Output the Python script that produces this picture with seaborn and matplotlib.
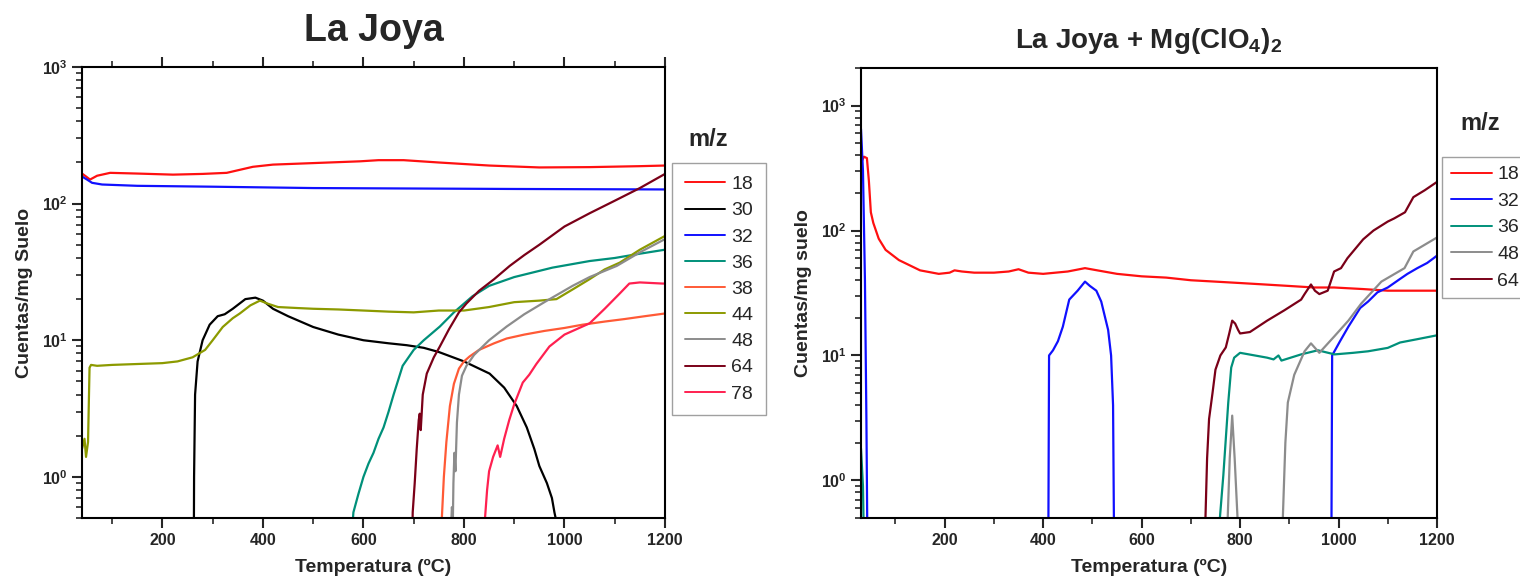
import numpy as np
import pandas as pd
import matplotlib
matplotlib.use("Agg")
import matplotlib.pyplot as plt
from matplotlib.ticker import FixedLocator, LogLocator, FuncFormatter, NullFormatter, MultipleLocator
from matplotlib.lines import Line2D
import seaborn as sns

# ---------------- data: La Joya (left) ----------------
T18_L = [40, 48, 56, 70, 96, 150, 221, 280, 328, 380, 420, 500, 593, 630, 680, 750, 850, 950, 1050, 1150, 1200]
V18_L = [166, 158, 150, 160, 168, 166, 163, 165, 168, 186, 193, 198, 204, 208, 208, 200, 190, 184, 185, 188, 190]
T30_L = [262, 263, 265, 270, 280, 294, 310, 324, 340, 365, 385, 400, 420, 450, 500, 550, 600, 650, 686, 720, 750,
         800, 851, 880, 905, 925, 940, 950, 965, 975, 980, 985]
V30_L = [0.1, 1.0, 4.0, 7.0, 10, 13, 15, 15.5, 17, 20, 20.5, 19.5, 17, 15, 12.5, 11, 10, 9.5, 9.2, 8.8, 8.2,
         7.0, 5.7, 4.5, 3.3, 2.3, 1.6, 1.2, 0.9, 0.7, 0.55, 0.45]
T32_L = [40, 50, 60, 80, 150, 300, 500, 700, 900, 1200]
V32_L = [158, 150, 142, 138, 135, 133, 130, 129, 128, 127]
T36_L = [575, 580, 590, 600, 610, 620, 630, 640, 650, 660, 678, 700, 720, 752, 780, 817, 850, 900, 976, 1050,
         1100, 1150, 1200]
V36_L = [0.3, 0.55, 0.75, 1.0, 1.25, 1.5, 1.9, 2.3, 3.0, 4.0, 6.5, 8.5, 10, 12.6, 16, 21, 25, 29, 34, 38,
         40, 43, 46]
T38_L = [752, 756, 760, 765, 772, 780, 790, 800, 811, 830, 860, 885, 920, 960, 1000, 1036, 1080, 1120, 1160, 1200]
V38_L = [0.1, 0.5, 1.0, 1.8, 3.3, 4.8, 6.2, 7.0, 7.6, 8.5, 9.5, 10.3, 11, 11.7, 12.3, 13, 13.7, 14.3, 15, 15.7]
T44_L = [40, 45, 48, 52, 55, 58, 70, 100, 150, 200, 230, 260, 285, 300, 320, 340, 354, 375, 394, 410, 430,
         470, 500, 550, 600, 650, 700, 750, 800, 850, 900, 950, 984, 1020, 1050, 1080, 1110, 1150, 1200]
V44_L = [1.6, 1.9, 1.4, 1.8, 6.3, 6.6, 6.5, 6.6, 6.7, 6.8, 7.0, 7.5, 8.5, 10, 12.5, 14.5, 15.7, 18, 19.5, 18.5, 17.5,
         17.2, 17, 16.8, 16.5, 16.2, 16, 16.5, 16.5, 17.5, 19, 19.5, 20, 24, 28, 33, 37, 46, 58]
T48_L = [770, 774, 776, 778, 779, 781, 783, 786, 790, 796, 805, 820, 850, 885, 920, 960, 1016, 1050, 1104, 1150, 1200]
V48_L = [0.1, 0.4, 0.6, 0.5, 0.9, 1.5, 1.1, 2.5, 4.0, 5.5, 6.5, 7.8, 10, 12.6, 15.5, 19, 25, 29, 35, 44, 55]
T64_L = [695, 698, 702, 706, 710, 712, 714, 718, 726, 740, 752, 770, 790, 805, 830, 860, 891, 920, 950, 1000,
         1050, 1100, 1150, 1200]
V64_L = [0.1, 0.55, 0.9, 1.6, 2.6, 2.9, 2.2, 4.0, 5.7, 7.5, 9, 12, 16, 18.6, 23, 28, 35, 42, 50, 68,
         85, 105, 130, 165]
T78_L = [836, 841, 846, 850, 858, 867, 872, 880, 890, 900, 917, 930, 944, 970, 1000, 1050, 1080, 1110, 1129, 1150,
         1195, 1200]
V78_L = [0.1, 0.45, 0.8, 1.1, 1.4, 1.7, 1.4, 1.9, 2.6, 3.4, 4.9, 5.6, 6.7, 9, 11, 13.3, 17, 22, 26, 26.5, 26, 26]

# ---------------- data: La Joya + Mg(ClO4)2 (right) ----------------
T18_R = [30, 36, 42, 46, 50, 55, 66, 80, 107, 150, 188, 210, 220, 235, 260, 300, 330, 350, 370, 400, 450, 485,
         510, 550, 600, 650, 700, 750, 800, 850, 900, 950, 991, 1050, 1100, 1150, 1200]
V18_R = [350, 390, 380, 250, 140, 115, 86, 70, 58, 48, 45, 46, 48, 47, 46, 46, 47, 49, 46, 45, 47, 50,
         48, 45, 43, 42, 40, 39, 38, 37, 36, 35, 35, 34, 33, 33, 33]
T32_R = [30, 34, 38, 41, 44, 400, 410, 412, 420, 430, 440, 453, 470, 485, 495, 508, 518, 526, 532, 538, 542, 545,
         980, 985, 987, 1003, 1020, 1044, 1060, 1079, 1100, 1125, 1140, 1160, 1180, 1193, 1200]
V32_R = [650, 300, 40, 3, 0.1, 0.1, 0.1, 10, 11, 13, 17, 28, 33, 39, 36, 33, 27, 20, 16, 10, 4, 0.1,
         0.1, 0.1, 10, 13, 17, 24, 27, 32, 35, 41, 45, 50, 55, 60, 63]
T36_R = [30, 34, 38, 750, 757, 766, 776, 782, 788, 800, 830, 855, 868, 878, 884, 924, 958, 992, 1030, 1060,
         1100, 1125, 1160, 1200]
V36_R = [1.8, 0.9, 0.1, 0.1, 0.4, 1.1, 4.2, 8, 9.6, 10.5, 10, 9.6, 9.3, 10, 9.1, 10.2, 11, 10.2, 10.5, 10.8,
         11.5, 12.7, 13.5, 14.5]
T48_R = [30, 770, 774, 779, 784, 789, 796, 800, 880, 886, 892, 897, 910, 931, 944, 961, 992, 1020, 1046, 1087,
         1134, 1152, 1200]
V48_R = [0.1, 0.1, 0.4, 1.5, 3.3, 1.5, 0.4, 0.1, 0.1, 0.4, 2, 4.2, 7, 10.8, 12.5, 10.5, 14.3, 19, 26, 39,
         50, 68, 88]
T64_R = [30, 722, 729, 733, 737, 744, 750, 760, 771, 778, 784, 790, 796, 800, 820, 855, 890, 924, 931, 944, 952,
         961, 978, 991, 1005, 1018, 1050, 1071, 1100, 1113, 1135, 1152, 1175, 1200]
V64_R = [0.1, 0.1, 0.4, 1.5, 3.1, 5, 7.7, 10, 11.6, 15, 19, 18, 16, 15, 15.4, 19, 23, 28, 31, 37, 33,
         31, 33, 47, 50, 60, 85, 100, 118, 125, 140, 185, 210, 245]

LEFT_LABELS = ["18", "30", "32", "36", "38", "44", "48", "64", "78"]
RIGHT_LABELS = ["18", "32", "36", "48", "64"]

COLORS = {"18": "#FF1010", "30": "#000000", "32": "#1010FF", "36": "#00907A", "38": "#FF5A36",
          "44": "#8C9A00", "48": "#8C8C8C", "64": "#7A0018", "78": "#FF2050"}

left_series = {"18": (T18_L, V18_L), "30": (T30_L, V30_L), "32": (T32_L, V32_L), "36": (T36_L, V36_L),
               "38": (T38_L, V38_L), "44": (T44_L, V44_L), "48": (T48_L, V48_L), "64": (T64_L, V64_L),
               "78": (T78_L, V78_L)}
right_series = {"18": (T18_R, V18_R), "32": (T32_R, V32_R), "36": (T36_R, V36_R), "48": (T48_R, V48_R),
                "64": (T64_R, V64_R)}


def to_long(series):
    rows = []
    for k, (t, v) in series.items():
        for a, b in zip(t, v):
            rows.append((a, b, k))
    return pd.DataFrame(rows, columns=["T", "val", "mz"])


sns.set_style("ticks")
plt.rcParams["font.family"] = ["Liberation Sans", "DejaVu Sans"]
plt.rcParams["mathtext.fontset"] = "custom"
plt.rcParams["mathtext.rm"] = "Liberation Sans"
plt.rcParams["mathtext.bf"] = "Liberation Sans:bold"

fig = plt.figure(figsize=(15.2, 5.84), dpi=100)
W, H = 1520, 584
axL = fig.add_axes([82 / W, 1 - 518 / H, (665 - 82) / W, (518 - 67) / H])
axR = fig.add_axes([861 / W, 1 - 518 / H, (1437 - 861) / W, (518 - 68) / H])

LW = 1.6
sns.lineplot(data=to_long(left_series), x="T", y="val", hue="mz", hue_order=LEFT_LABELS,
             palette=COLORS, estimator=None, sort=False, legend=False, linewidth=LW, ax=axL)
sns.lineplot(data=to_long(right_series), x="T", y="val", hue="mz", hue_order=RIGHT_LABELS,
             palette=COLORS, estimator=None, sort=False, legend=False, linewidth=LW, ax=axR)

fmt = FuncFormatter(lambda v, p: r"$\mathbf{10^{%d}}$" % int(round(np.log10(v))))

for ax, xl, yl, ylab in [(axL, (40, 1200), (0.5, 1000), "Cuentas/mg Suelo"),
                         (axR, (30, 1200), (0.5, 2000), "Cuentas/mg suelo")]:
    ax.set_yscale("log")
    ax.set_xlim(*xl)
    ax.set_ylim(*yl)
    ax.xaxis.set_major_locator(FixedLocator([200, 400, 600, 800, 1000, 1200]))
    ax.xaxis.set_minor_locator(MultipleLocator(100))
    ax.yaxis.set_major_locator(LogLocator(base=10, numticks=10))
    ax.yaxis.set_minor_locator(LogLocator(base=10, subs=np.arange(2, 10), numticks=20))
    ax.yaxis.set_major_formatter(fmt)
    ax.yaxis.set_minor_formatter(NullFormatter())
    for s in ax.spines.values():
        s.set_linewidth(1.5)
        s.set_color("black")
    ax.tick_params(axis="both", which="major", direction="out", length=7, width=1.5, labelsize=11.5)
    ax.tick_params(axis="both", which="minor", direction="out", length=4, width=1.2)
    for lab in ax.get_xticklabels():
        lab.set_fontweight("bold")
    ax.set_xlabel("Temperatura (ºC)", fontsize=14, fontweight="bold", labelpad=8)
    ax.set_ylabel(ylab, fontsize=14, fontweight="bold", labelpad=6)

axL.tick_params(axis="x", which="both", top=True)

fig.text((82 + 665) / 2 / W, 1 - 31 / H, "La Joya", ha="center", va="center", fontsize=27, fontweight="bold")
fig.text((861 + 1437) / 2 / W, 1 - 41 / H, r"La Joya + Mg(ClO$_\mathbf{4}$)$_\mathbf{2}$", ha="center",
         va="center", fontsize=20, fontweight="bold")

# legends
fig.text(708 / W, 1 - 139 / H, "m/z", ha="center", va="center", fontsize=17, fontweight="bold")
fig.text(1480 / W, 1 - 124 / H, "m/z", ha="center", va="center", fontsize=17, fontweight="bold")

leg_kw = dict(loc="upper left", bbox_transform=fig.transFigure, borderaxespad=0, fontsize=14, frameon=True,
              fancybox=False, edgecolor="#888888", handletextpad=0.3)

hL = [Line2D([], [], color=COLORS[k], lw=1.4) for k in LEFT_LABELS]
legL = fig.legend(hL, LEFT_LABELS, bbox_to_anchor=(672 / W, 1 - 163 / H), borderpad=0.65,
                  handlelength=2.1, labelspacing=0.44, **leg_kw)
legL.get_frame().set_linewidth(1.0)

hR = [Line2D([], [], color=COLORS[k], lw=1.4) for k in RIGHT_LABELS]
legR = fig.legend(hR, RIGHT_LABELS, bbox_to_anchor=(1442 / W, 1 - 157 / H), borderpad=0.45,
                  handlelength=2.1, labelspacing=0.46, **leg_kw)
legR.get_frame().set_linewidth(1.0)

fig.savefig("out.png", dpi=100)
